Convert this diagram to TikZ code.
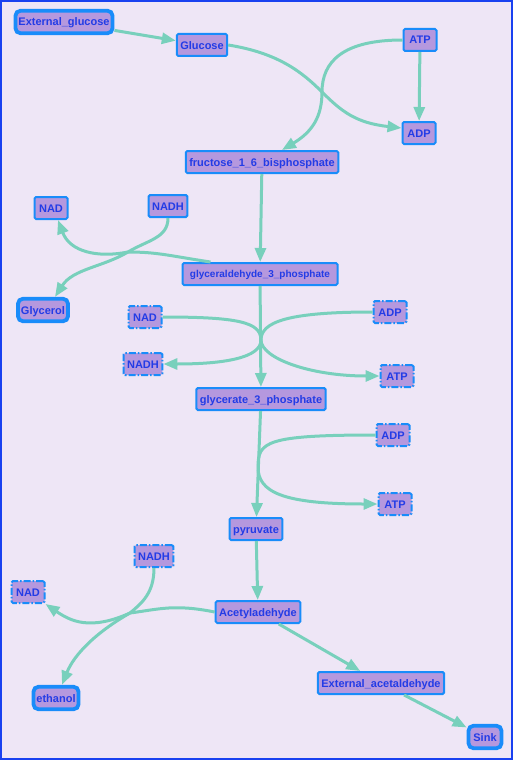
\documentclass[tikz,border=0pt]{standalone}
\usepackage{fontspec}
\setmainfont{Liberation Sans}
\usepackage{tikz}
\usetikzlibrary{arrows.meta,calc,positioning}
\definecolor{bgpurple}{RGB}{238,230,246}
\definecolor{frameblue}{RGB}{25,65,240}
\definecolor{metfill}{RGB}{181,152,222}
\definecolor{metdraw}{RGB}{25,140,250}
\definecolor{mettext}{RGB}{35,60,230}
\definecolor{fluxcol}{RGB}{120,208,188}
\tikzset{
  >={Triangle[length=14pt,width=11pt]},
  met/.style={draw=metdraw,fill=metfill,text=mettext,line width=2pt,
    rounded corners=1.5pt,minimum height=22pt,minimum width=33pt,
    text height=8pt,text depth=0pt,
    inner xsep=3.5pt,inner ysep=2pt,font=\fontsize{11}{13}\selectfont\bfseries},
  extmet/.style={met,line width=3.8pt,rounded corners=5pt,
    minimum height=22.5pt,inner xsep=3pt},
  cofac/.style={met,dash pattern=on 7pt off 2pt on 1.5pt off 2pt},
  flux/.style={->,draw=fluxcol,line width=3pt},
}
\begin{document}
\begin{tikzpicture}[x=1pt,y=1pt]
  \useasboundingbox (0,0) rectangle (513,-760);
  \draw[fill=bgpurple,draw=frameblue,line width=2pt] (1,-1) rectangle (512,-759);

  \node[extmet] (extglc) at (64,-22) {External\_glucose};
  \node[met] (glc) at (202,-45) {Glucose};
  \node[met] (atp1) at (420,-40) {ATP};
  \node[met] (adp1) at (419,-133) {ADP};
  \node[met] (fbp) at (262,-162) {fructose\_1\_6\_bisphosphate};
  \node[met] (nad1) at (51,-208) {NAD};
  \node[met] (nadh1) at (168,-206) {NADH};
  \node[met,minimum width=155pt,text height=7.5pt,
    font=\fontsize{10}{12}\selectfont\bfseries]
    (gap) at (260,-274) {glyceraldehyde\_3\_phosphate};
  \node[extmet] (glyc) at (43,-310) {Glycerol};
  \node[cofac] (nad2) at (145,-317) {NAD};
  \node[cofac] (adp2) at (390,-312) {ADP};
  \node[cofac] (nadh2) at (143,-364) {NADH};
  \node[cofac] (atp2) at (397,-376) {ATP};
  \node[met] (g3p) at (261,-399) {glycerate\_3\_phosphate};
  \node[cofac] (adp3) at (393,-435) {ADP};
  \node[cofac] (atp3) at (395,-504) {ATP};
  \node[met] (pyr) at (256,-529) {pyruvate};
  \node[cofac] (nadh3) at (154,-556) {NADH};
  \node[cofac] (nad3) at (28,-592) {NAD};
  \node[met] (acald) at (258,-612) {Acetyladehyde};
  \node[extmet] (etoh) at (56,-698) {ethanol};
  \node[met] (extacald) at (381,-683) {External\_acetaldehyde};
  \node[extmet] (sink) at (485,-737) {Sink};

  \coordinate (r1) at (322,-92);
  \coordinate (r2) at (128,-252);
  \coordinate (r3) at (261,-340);
  \coordinate (r4) at (258,-467);
  \coordinate (r5) at (130,-613);

  \draw[flux] (extglc) -- (glc);
  \draw[flux] (glc.east) .. controls +(50,-8) and +(-20,20) .. (r1)
    .. controls +(20,-20) and +(-45,5) .. ($(adp1.west)+(0,5)$);
  \draw[flux] (atp1.west) .. controls +(-60,0) and +(0,30) .. (r1)
    .. controls +(0,-25) and +(30,18) .. ($(fbp.north)+(20,0)$);
  \draw[flux] (atp1) -- (adp1);
  \draw[flux] (fbp) -- (gap);
  \draw[flux] ($(gap.north west)+(29,0)$) .. controls +(-40,6) and +(30,0) .. (r2)
    .. controls +(-30,-6) and +(12,-32) .. ($(nad1.south)+(7,0)$);
  \draw[flux] (nadh1.south) .. controls +(0,-20) and +(20,12) .. (r2)
    .. controls +(-25,-15) and +(18,28) .. ($(glyc.north)+(12,0)$);
  \draw[flux] (gap) -- (g3p);
  \draw[flux] (nad2.east) .. controls +(75,0) and +(0,18) .. (r3)
    .. controls +(0,-18) and +(60,0) .. (nadh2.east);
  \draw[flux] (adp2.west) .. controls +(-85,0) and +(0,18) .. (r3)
    .. controls +(0,-18) and +(-70,0) .. (atp2.west);
  \draw[flux] (g3p) -- (pyr);
  \draw[flux] (adp3.west) .. controls +(-110,0) and +(0,25) .. (r4)
    .. controls +(0,-25) and +(-95,0) .. (atp3.west);
  \draw[flux] (pyr) -- (acald);
  \draw[flux] (acald.west) .. controls +(-40,8) and +(30,4) .. (r5)
    .. controls +(-40,-18) and +(25,-17) .. (nad3.south east);
  \draw[flux] (nadh3.south) .. controls +(0,-25) and +(12,10) .. (r5)
    .. controls +(-35,-20) and +(12,30) .. ($(etoh.north)+(6,0)$);
  \draw[flux] (acald) -- (extacald);
  \draw[flux] (extacald) -- (sink);
\end{tikzpicture}
\end{document}
